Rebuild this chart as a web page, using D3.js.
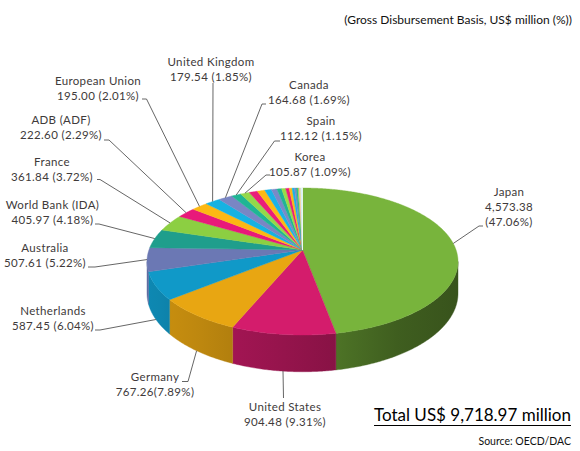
<!DOCTYPE html>
<html>
<head>
<meta charset="utf-8">
<script src="https://cdn.jsdelivr.net/npm/d3@7"></script>
<style>
  html, body { margin: 0; padding: 0; background: #fff; }
  svg { display: block; }
  text { font-family: Lato, "Open Sans", sans-serif; }
</style>
</head>
<body>
<svg id="chart" width="580" height="451"></svg>
<script>
// ---------------- DATA ----------------
const donors = ["Japan", "United States", "Germany", "Netherlands", "Australia",
  "World Bank (IDA)", "France", "ADB (ADF)", "European Union", "United Kingdom",
  "Canada", "Spain", "Korea"];
const amounts = [4573.38, 904.48, 767.26, 587.45, 507.61, 405.97, 361.84,
  222.60, 195.00, 179.54, 164.68, 112.12, 105.87];
const shares = [47.06, 9.31, 7.89, 6.04, 5.22, 4.18, 3.72, 2.29, 2.01, 1.85,
  1.69, 1.15, 1.09];
// remaining unlabeled donors
const otherAmounts = [98, 90, 78, 66, 55, 48, 40, 34, 28, 22, 18, 14, 11, 9, 7, 5, 4, 4.17];

const headerText = "(Gross Disbursement Basis, US$ million (%))";
const sourceText = "Source: OECD/DAC";

// ---------------- STYLE ----------------
const namedColors = ["#78b43c", "#d41c6c", "#e8a612", "#1099c8", "#6b78b4",
  "#1f9e8c", "#8ccf42", "#e8197a", "#fcb813", "#16b2e2", "#7986c4", "#1fb594", "#94d84a"];
const otherColors = ["#ea1e7a", "#fdb913", "#1ab3e6", "#7a89c8", "#20b396", "#98dc48",
  "#ea1e7a", "#fdb913", "#1ab3e6", "#7a89c8", "#20b396", "#98dc48",
  "#f6a6c6", "#fde08a", "#a8def4", "#cfeaf6", "#e6f6fc", "#f6fcff"];

// label layout (positions only)
const labelLayout = [
  { x: 509, y: 191.5, lines: "split", lead: [[483, 226], [479, 226]], end: 0 },
  { x: 285, y: 406.7, lead: [[283.5, 398]], end: 1 },
  { x: 155, y: 376.7, lines: "tight", lead: [[182, 381.5], [188, 381.5]], end: 1 },
  { x: 53, y: 311, lead: [[95, 330], [100, 330]], end: 1 },
  { x: 45, y: 248, lead: [[88, 267], [95, 267]], end: 0 },
  { x: 52.5, y: 205, lead: [[95, 224], [99, 224]], end: 0 },
  { x: 52, y: 161.7, lead: [[97, 179.5], [100, 179.5]], end: 0 },
  { x: 61, y: 120, lead: [[104, 140], [109, 140]], end: 0 },
  { x: 98, y: 80.7, lead: [[142, 99], [146.5, 99]], end: 0 },
  { x: 211, y: 61.7, lead: [[213, 83]], end: 0 },
  { x: 309, y: 85, lead: [[266, 104], [262, 104]], end: 0 },
  { x: 321, y: 121, lead: [[280, 141], [274.5, 141]], end: 0 },
  { x: 310, y: 157, lead: [[270, 175], [266, 175]], end: 0 }
];

// ---------------- GEOMETRY ----------------
const cx = 302.5, cy = 250, R = 153.6, Ry = 71.7, persp = 0.1565, depth = 31;
function proj(a, r, d) {
  const u = r * Math.sin(a), v = r * Math.cos(a);
  const s = 1 / (1 + persp * v);
  return [cx + R * u * s, cy - Ry * v * s + d * depth * s];
}
function rim(a0, a1, d) {
  const n = Math.max(2, Math.ceil((a1 - a0) / (Math.PI / 360)));
  return d3.range(n + 1).map(k => proj(a0 + (a1 - a0) * k / n, 1, d));
}
function shade(c, a) {
  const f = 0.68 - 0.22 * Math.sin(a);
  const k = d3.rgb(c);
  return d3.rgb(k.r * f, k.g * f, k.b * f).formatHex();
}

const all = donors.map((n, i) => ({ name: n, value: amounts[i], share: shares[i], color: namedColors[i], labeled: true }))
  .concat(otherAmounts.map((v, i) => ({ name: "Other " + (i + 1), value: v, color: otherColors[i], labeled: false })));

const arcs = d3.pie().sort(null).value(d => d.value).startAngle(0).endAngle(2 * Math.PI)(all);

const svg = d3.select("#chart");
const defs = svg.append("defs");
const line = d3.line();

// sides
const aMin = Math.acos(-persp), aMax = 2 * Math.PI - aMin;
const sideG = svg.append("g");
arcs.forEach((a, i) => {
  const b0 = Math.max(a.startAngle, aMin), b1 = Math.min(a.endAngle, aMax);
  if (b1 <= b0) return;
  const top = rim(b0, b1, 0), bot = rim(b0, b1, 1).reverse();
  const gid = "sg" + i;
  const g = defs.append("linearGradient").attr("id", gid)
    .attr("gradientUnits", "userSpaceOnUse")
    .attr("x1", proj(b0, 1, 0)[0]).attr("x2", proj(b1, 1, 0)[0]).attr("y1", 0).attr("y2", 0);
  [0, 0.5, 1].forEach(t => {
    g.append("stop").attr("offset", t).attr("stop-color", shade(a.data.color, b0 + (b1 - b0) * t));
  });
  sideG.append("path")
    .attr("d", line(top.concat(bot)) + "Z")
    .attr("fill", `url(#${gid})`)
    .attr("stroke", `url(#${gid})`).attr("stroke-width", 0.4);
});

// top faces
const topG = svg.append("g");
arcs.forEach(a => {
  const pts = [[cx, cy]].concat(rim(a.startAngle, a.endAngle, 0));
  topG.append("path")
    .attr("d", line(pts) + "Z")
    .attr("fill", a.data.color)
    .attr("stroke", a.data.color).attr("stroke-width", 0.4);
});

// labels + leaders
const fmt = d3.format(",.2f");
const labG = svg.append("g");
labelLayout.forEach((L, i) => {
  const a = arcs[i], d = a.data;
  const mid = (a.startAngle + a.endAngle) / 2;
  const endPt = proj(mid, 1, L.end);
  const pts = L.lead.concat([endPt]);
  labG.append("path").attr("d", line(pts)).attr("fill", "none")
    .attr("stroke", "#555").attr("stroke-width", 0.9);
  let lines;
  const val = fmt(d.value), pct = "(" + d.share.toFixed(2) + "%)";
  if (L.lines === "split") lines = [d.name, val, pct];
  else if (L.lines === "tight") lines = [d.name, val + pct];
  else lines = [d.name, val + " " + pct];
  const t = labG.append("text").attr("text-anchor", "middle")
    .attr("font-size", 11.5).attr("letter-spacing", 0.35).attr("fill", "#403a3a");
  lines.forEach((s, k) => {
    t.append("tspan").attr("x", L.x).attr("y", L.y + 4 + k * 15).text(s);
  });
});

// header
svg.append("text").attr("x", 572).attr("y", 24).attr("text-anchor", "end")
  .attr("font-size", 12).attr("fill", "#111").text(headerText);

// total
const total = d3.sum(all, d => d.value);
const tt = svg.append("text").attr("x", 571).attr("y", 421).attr("text-anchor", "end")
  .attr("font-size", 17).attr("fill", "#000").text("Total US$ " + fmt(total) + " million");
const tw = tt.node().getComputedTextLength();
svg.append("line").attr("x1", 571 - tw).attr("x2", 571).attr("y1", 425.5).attr("y2", 425.5)
  .attr("stroke", "#000").attr("stroke-width", 1.2);

// source
svg.append("text").attr("x", 571).attr("y", 445).attr("text-anchor", "end")
  .attr("font-size", 10.5).attr("fill", "#111").text(sourceText);
</script>
</body>
</html>
